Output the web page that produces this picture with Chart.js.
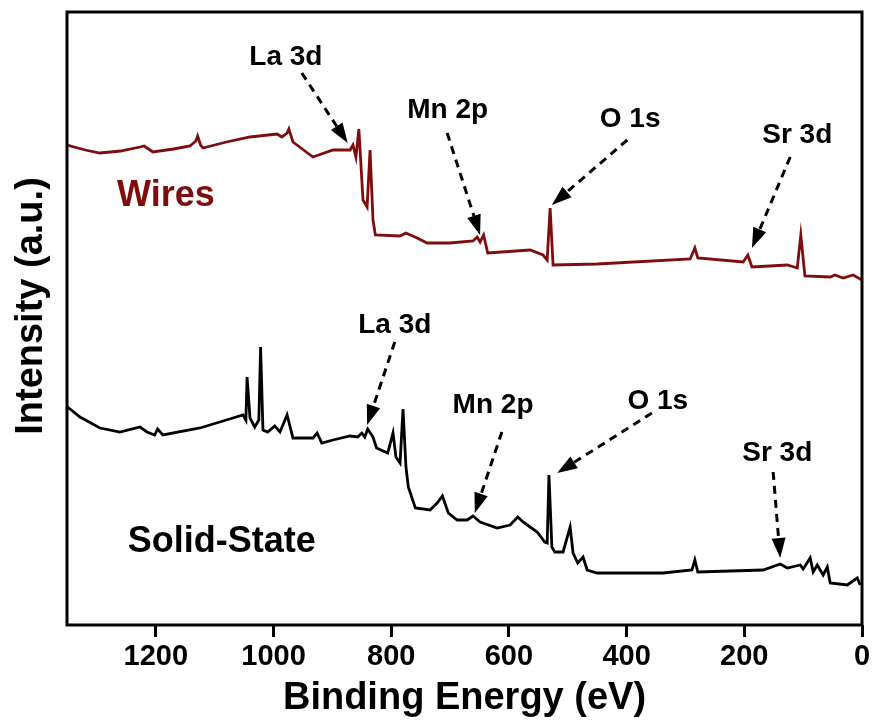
<!DOCTYPE html>
<html>
<head>
<meta charset="utf-8">
<script src="https://cdn.jsdelivr.net/npm/chart.js@4"></script>
<style>
  body { margin: 0; background: #fff; }
</style>
</head>
<body>
<canvas id="xps" width="873" height="721"></canvas>
<script>
// Survey spectra, binding energy (eV) against intensity (arbitrary units)
const wiresEnergy = [1351, 1320, 1295, 1260, 1227, 1220, 1205, 1170, 1142, 1132, 1129, 1124, 1120, 1080, 1040, 994, 986, 977, 974, 967, 933, 899, 870, 865, 860, 855, 848, 841, 836, 831, 827, 785, 775, 756, 739, 700, 661, 654, 649, 643, 636, 564, 542, 535, 530, 525, 450, 292, 284, 279, 202, 194, 187, 127, 110, 104, 97, 54, 46, 32, 15, 0];
const wiresIntensity = [480, 475, 472, 474, 478, 479, 473, 476, 479, 484, 489, 480, 477, 483, 488, 491, 488, 492, 496, 483, 468, 475, 475, 480, 468, 496, 425, 418, 475, 405, 390, 389, 392, 387, 382, 382, 384, 388, 383, 390, 372, 375, 370, 365, 417, 360, 361, 366, 377, 367, 363, 370, 358, 360, 357, 390, 349, 348, 350, 347, 350, 345];

const solidEnergy = [1350, 1329, 1295, 1261, 1227, 1215, 1202, 1197, 1188, 1125, 1069, 1052, 1047, 1045, 1040, 1032, 1025, 1022, 1018, 1010, 998, 989, 977, 967, 933, 926, 918, 899, 870, 857, 850, 845, 840, 831, 825, 806, 797, 792, 785, 780, 775, 771, 759, 734, 722, 713, 703, 688, 671, 661, 649, 620, 598, 585, 576, 564, 552, 539, 535, 532, 527, 522, 508, 496, 491, 483, 474, 467, 450, 338, 289, 284, 279, 168, 139, 127, 105, 100, 88, 83, 76, 66, 59, 54, 25, 8, 3];
const solidIntensity = [218, 208, 197, 193, 198, 193, 190, 196, 190, 197, 207, 210, 205, 248, 207, 198, 205, 278, 195, 193, 199, 193, 210, 187, 187, 192, 182, 185, 189, 188, 192, 188, 196, 188, 177, 172, 192, 168, 162, 216, 158, 138, 117, 115, 122, 129, 112, 105, 105, 109, 103, 97, 100, 108, 103, 98, 93, 83, 82, 150, 78, 73, 73, 98, 72, 62, 68, 55, 52, 52, 55, 65, 53, 55, 61, 57, 60, 56, 67, 53, 60, 50, 58, 42, 40, 47, 40];

const xTicks = [0, 200, 400, 600, 800, 1000, 1200];

// peak labels with their dashed arrows (text position, arrow start, arrow tip)
const peakText = ["La 3d", "Mn 2p", "O 1s", "Sr 3d", "La 3d", "Mn 2p", "O 1s", "Sr 3d"];
const peakTextEnergy = [979, 704, 394, 110, 794, 627, 347, 144];
const peakTextIntensity = [568, 515, 506, 490, 300, 220, 224, 172];
const arrowFromEnergy = [952, 705, 399, 122, 794, 612, 357, 151];
const arrowFromIntensity = [552, 492, 485, 468, 283, 193, 212, 153];
const arrowToEnergy = [874, 649, 527, 187, 841, 658, 518, 139];
const arrowToIntensity = [482, 390, 420, 377, 200, 112, 152, 67];

const sampleNames = ["Wires", "Solid-State"];
const sampleEnergy = [1183, 1088];
const sampleIntensity = [429, 83];

const wireColor = "#7f0d0d";
const fontFamily = "'Liberation Sans', Arial, sans-serif";

function points(xs, ys) {
    return xs.map((x, i) => ({x: x, y: ys[i]}));
}

function drawArrow(ctx, x1, y1, x2, y2) {
    let ang = Math.atan2(y2 - y1, x2 - x1);
    let headLen = 20, headHalf = 7;
    let bx = x2 - headLen * Math.cos(ang);
    let by = y2 - headLen * Math.sin(ang);

    ctx.save();
    ctx.strokeStyle = "#000";
    ctx.lineWidth = 3;
    ctx.setLineDash([8, 6]);
    ctx.beginPath();
    ctx.moveTo(x1, y1);
    ctx.lineTo(bx, by);
    ctx.stroke();

    ctx.setLineDash([]);
    ctx.fillStyle = "#000";
    ctx.beginPath();
    ctx.moveTo(x2, y2);
    ctx.lineTo(bx + headHalf * Math.sin(ang), by - headHalf * Math.cos(ang));
    ctx.lineTo(bx - headHalf * Math.sin(ang), by + headHalf * Math.cos(ang));
    ctx.closePath();
    ctx.fill();
    ctx.restore();
}

const annotations = {
    id: "annotations",
    afterDatasetsDraw(chart) {
        let ctx = chart.ctx;
        let xs = chart.scales.x, ys = chart.scales.y;
        let area = chart.chartArea;

        // frame round the plot
        ctx.save();
        ctx.strokeStyle = "#000";
        ctx.lineWidth = 3;
        ctx.strokeRect(area.left, area.top, area.right - area.left, area.bottom - area.top);

        ctx.textAlign = "center";
        ctx.textBaseline = "middle";

        // y axis title, sits a bit above the middle of the axis
        ctx.save();
        ctx.translate(32, 306);
        ctx.rotate(-Math.PI / 2);
        ctx.font = "bold 38px " + fontFamily;
        ctx.fillStyle = "#000";
        ctx.fillText("Intensity (a.u.)", 0, 0);
        ctx.restore();

        ctx.font = "bold 28px " + fontFamily;
        ctx.fillStyle = "#000";
        for (let i = 0; i < peakText.length; i++) {
            ctx.fillText(peakText[i], xs.getPixelForValue(peakTextEnergy[i]), ys.getPixelForValue(peakTextIntensity[i]));
            drawArrow(ctx,
                xs.getPixelForValue(arrowFromEnergy[i]), ys.getPixelForValue(arrowFromIntensity[i]),
                xs.getPixelForValue(arrowToEnergy[i]), ys.getPixelForValue(arrowToIntensity[i]));
        }

        ctx.font = "bold 36px " + fontFamily;
        for (let i = 0; i < sampleNames.length; i++) {
            ctx.fillStyle = i === 0 ? wireColor : "#000";
            ctx.fillText(sampleNames[i], xs.getPixelForValue(sampleEnergy[i]), ys.getPixelForValue(sampleIntensity[i]));
        }
        ctx.restore();
    }
};

new Chart(document.getElementById("xps"), {
    type: "line",
    data: {
        datasets: [{
            label: sampleNames[0],
            data: points(wiresEnergy, wiresIntensity),
            borderColor: wireColor,
            borderWidth: 2.8,
            pointRadius: 0,
            tension: 0
        }, {
            label: sampleNames[1],
            data: points(solidEnergy, solidIntensity),
            borderColor: "#000",
            borderWidth: 2.8,
            pointRadius: 0,
            tension: 0
        }]
    },
    options: {
        responsive: false,
        animation: false,
        layout: {padding: {top: 12, right: 11, left: 0, bottom: 0}},
        plugins: {
            legend: {display: false},
            tooltip: {enabled: false}
        },
        scales: {
            x: {
                type: "linear",
                reverse: true,
                min: 0,
                max: 1351,
                afterBuildTicks: scale => { scale.ticks = xTicks.map(v => ({value: v})); },
                afterFit: scale => { scale.height = 96; },
                grid: {drawOnChartArea: false, drawTicks: true, tickLength: 12, tickWidth: 3, tickColor: "#000"},
                border: {display: false},
                ticks: {
                    color: "#000",
                    padding: 3,
                    maxRotation: 0,
                    font: {family: fontFamily, weight: "bold", size: 29},
                    callback: v => String(v)
                },
                title: {
                    display: true,
                    text: "Binding Energy (eV)",
                    color: "#000",
                    font: {family: fontFamily, weight: "bold", size: 38, lineHeight: 1.2},
                    padding: {top: 0, bottom: 0}
                }
            },
            y: {
                min: 0,
                max: 613,
                afterFit: scale => { scale.width = 67; },
                grid: {display: false},
                border: {display: false},
                ticks: {display: false},
                title: {display: false}
            }
        }
    },
    plugins: [annotations]
});
</script>
</body>
</html>
